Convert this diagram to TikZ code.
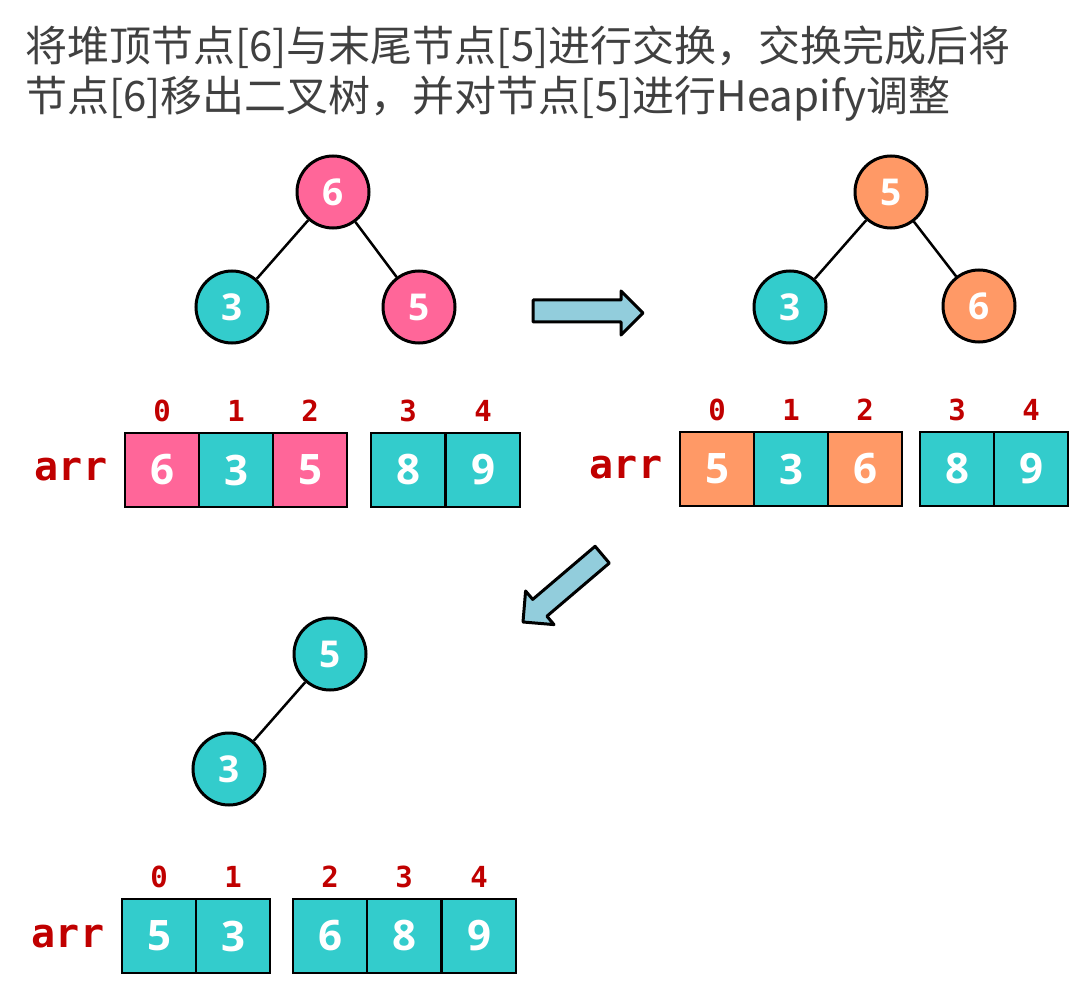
\documentclass[tikz,border=0pt]{standalone}
\usepackage{fontspec}
\newfontfamily\cjk{Noto Sans CJK SC}
\newfontfamily\digitfont{Open Sans}
\newfontfamily\monofont{DejaVu Sans Mono}
\definecolor{heappink}{HTML}{FF6699}
\definecolor{heapteal}{HTML}{33CCCC}
\definecolor{heaporange}{HTML}{FF9966}
\definecolor{arrowblue}{HTML}{92CDDC}
\definecolor{idxred}{HTML}{C00000}
\definecolor{titlegray}{HTML}{404040}
\tikzset{
    treenode/.style={circle, draw, line width=3, minimum size=72, inner sep=0,
        text=white, font=\digitfont\bfseries\fontsize{37}{37}\selectfont},
    cell/.style={draw, line width=2.5, minimum width=74, minimum height=74, inner sep=0,
        text=white, font=\digitfont\bfseries\fontsize{42}{42}\selectfont},
    idx/.style={text=idxred, font=\monofont\bfseries\fontsize{29}{29}\selectfont},
    arrname/.style={text=idxred, font=\monofont\bfseries\fontsize{40}{40}\selectfont},
    edge/.style={line width=2.5},
    bigarrow/.style={fill=arrowblue, draw, line width=3, line join=round},
    titletext/.style={anchor=base west, inner sep=0, text=titlegray,
        font=\cjk\fontsize{42}{50}\selectfont}
}
\begin{document}
\begin{tikzpicture}[x=1pt, y=-1pt]
    \useasboundingbox (0,0) rectangle (1072,987);
    % Title
    \node[titletext] (title1) at (25,62) {将堆顶节点[6]与末尾节点[5]进行交换，交换完成后将};
    \node[titletext] (title2) at (25,112) {节点[6]移出二叉树，并对节点[5]进行Heapify调整};

    % Tree before swap
    \node[treenode, fill=heappink] (r1) at (333,192) {6};
    \node[treenode, fill=heapteal] (l1) at (232,307) {3};
    \node[treenode, fill=heappink] (s1) at (419,307) {5};
    \draw[edge] (r1) -- (l1);
    \draw[edge] (r1) -- (s1);

    % Tree after swap
    \node[treenode, fill=heaporange] (r2) at (891,192) {5};
    \node[treenode, fill=heapteal] (l2) at (790,307) {3};
    \node[treenode, fill=heaporange] (s2) at (979,306) {6};
    \draw[edge] (r2) -- (l2);
    \draw[edge] (r2) -- (s2);

    % Tree after heapify
    \node[treenode, fill=heapteal] (r3) at (330,654) {5};
    \node[treenode, fill=heapteal] (l3) at (229,769) {3};
    \draw[edge] (r3) -- (l3);

    % Arrays
    \node[arrname] (arr1) at (71,470) {arr};
    \foreach \i/\x/\v/\c in {
        0/162/6/heappink,
        1/236/3/heapteal,
        2/310/5/heappink,
        3/408/8/heapteal,
        4/483/9/heapteal} {
        \node[cell, fill=\c] (a\i) at (\x,470) {\v};
        \node[idx] at (\x,411) {\i};
    }

    \node[arrname] (arr2) at (626,468) {arr};
    \foreach \i/\x/\v/\c in {
        0/717/5/heaporange,
        1/791/3/heapteal,
        2/865/6/heaporange,
        3/957/8/heapteal,
        4/1031/9/heapteal} {
        \node[cell, fill=\c] (b\i) at (\x,469) {\v};
        \node[idx] at (\x,410) {\i};
    }

    \node[arrname] (arr3) at (68,937) {arr};
    \foreach \i/\x/\v in {
        0/159/5,
        1/233/3,
        2/330/6,
        3/404/8,
        4/479/9} {
        \node[cell, fill=heapteal] (c\i) at (\x,936) {\v};
        \node[idx] at (\x,877) {\i};
    }

    % Step arrows
    \draw[bigarrow] (533,300) -- (621,300) -- (621,291) -- (643,313)
        -- (621,335) -- (621,322) -- (533,322) -- cycle;
    \draw[bigarrow] (523,622) -- (554,624.6) -- (546.9,616.2) -- (609.3,563.1)
        -- (595.1,546.3) -- (532.7,599.4) -- (525.6,591) -- cycle;
\end{tikzpicture}
\end{document}
